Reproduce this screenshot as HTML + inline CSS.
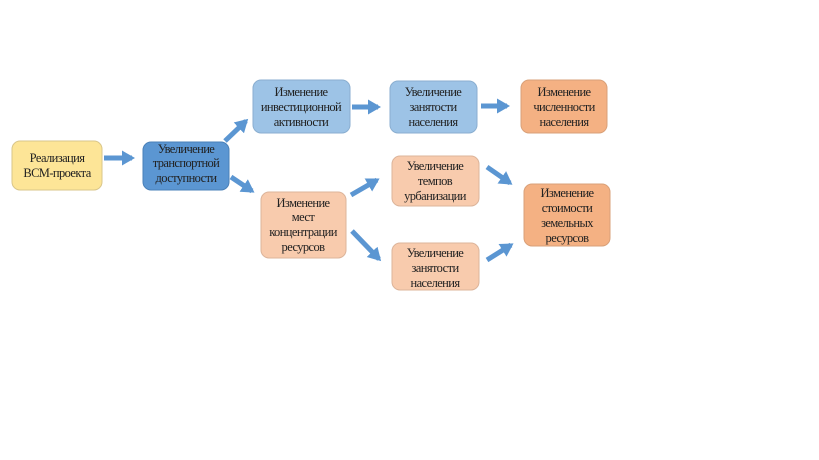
<!DOCTYPE html>
<html><head><meta charset="utf-8"><style>
html,body{margin:0;padding:0;background:#fff;width:819px;height:460px;overflow:hidden}
text{font-family:"Liberation Serif",serif;font-size:12.5px;fill:#222;text-anchor:middle;letter-spacing:-0.6px}
</style></head><body>
<svg width="819" height="460" xmlns="http://www.w3.org/2000/svg">
<defs><marker id="a" markerWidth="4" markerHeight="4" refX="2" refY="2" orient="auto" markerUnits="strokeWidth"><path d="M0,0.5 L2.6,2 L0,3.5z" fill="#5b96d2"/></marker></defs>
<g stroke="#b8b8b8" stroke-width="1">
<rect x="12" y="141" width="90" height="49" rx="8" fill="#fde597" stroke="#d9c68a"/>
<rect x="143" y="142" width="86" height="48" rx="8" fill="#5b96d2" stroke="#4a80b8"/>
<rect x="253" y="80" width="97" height="53" rx="8" fill="#9dc3e6" stroke="#8aaed0"/>
<rect x="390" y="81" width="87" height="52" rx="8" fill="#9dc3e6" stroke="#8aaed0"/>
<rect x="521" y="80" width="86" height="53" rx="8" fill="#f4b183" stroke="#d9a078"/>
<rect x="261" y="192" width="85" height="66" rx="8" fill="#f8cbad" stroke="#dcb49a"/>
<rect x="392" y="156" width="87" height="50" rx="8" fill="#f8cbad" stroke="#dcb49a"/>
<rect x="524" y="184" width="86" height="62" rx="8" fill="#f4b183" stroke="#d9a078"/>
<rect x="392" y="243" width="87" height="47" rx="8" fill="#f8cbad" stroke="#dcb49a"/>
</g>
<g stroke="#5b96d2" stroke-width="5" marker-end="url(#a)">
<line x1="104" y1="158" x2="132" y2="158"/>
<line x1="225" y1="141" x2="246" y2="121"/>
<line x1="231" y1="177" x2="252" y2="191"/>
<line x1="351" y1="195" x2="377" y2="180"/>
<line x1="352" y1="231" x2="379" y2="259"/>
<line x1="352" y1="107" x2="378" y2="107"/>
<line x1="481" y1="106" x2="507" y2="106"/>
<line x1="487" y1="167" x2="510" y2="183"/>
<line x1="487" y1="260" x2="511" y2="245"/>
</g>
<text x="57" y="162">Реализация</text><text x="57" y="177">ВСМ-проекта</text>
<text x="186" y="153">Увеличение</text><text x="186" y="167">транспортной</text><text x="186" y="182">доступности</text>
<text x="301" y="96">Изменение</text><text x="301" y="111">инвестиционной</text><text x="301" y="126">активности</text>
<text x="433" y="96">Увеличение</text><text x="433" y="111">занятости</text><text x="433" y="126">населения</text>
<text x="564" y="96">Изменение</text><text x="564" y="111">численности</text><text x="564" y="126">населения</text>
<text x="303" y="207">Изменение</text><text x="303" y="221">мест</text><text x="303" y="236">концентрации</text><text x="303" y="251">ресурсов</text>
<text x="435" y="170">Увеличение</text><text x="435" y="185">темпов</text><text x="435" y="200">урбанизации</text>
<text x="567" y="197">Изменение</text><text x="567" y="212">стоимости</text><text x="567" y="227">земельных</text><text x="567" y="242">ресурсов</text>
<text x="435" y="257">Увеличение</text><text x="435" y="272">занятости</text><text x="435" y="287">населения</text>
</svg>
</body></html>
